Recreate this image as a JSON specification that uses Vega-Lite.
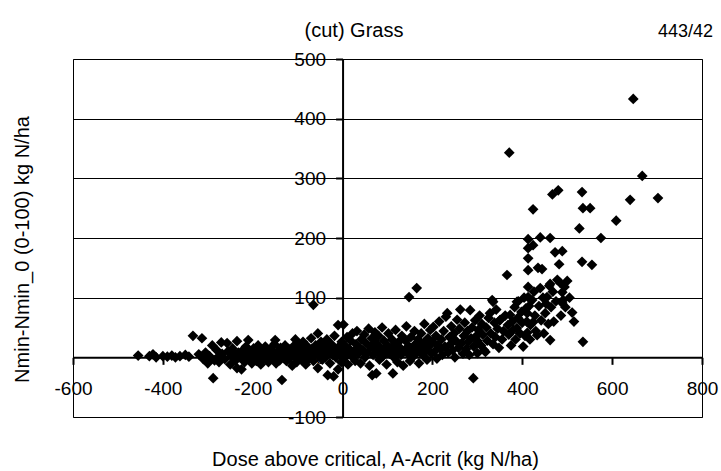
{
  "$schema": "https://vega.github.io/schema/vega-lite/v6.json",
  "width": 629,
  "height": 358,
  "autosize": {"type": "none"},
  "padding": {"left": 73, "top": 59, "right": 19, "bottom": 54},
  "background": "white",
  "config": {
    "view": {"stroke": "#000", "strokeWidth": 1},
    "font": "Liberation Sans",
    "axis": {"labelFont": "Liberation Sans", "titleFont": "Liberation Sans", "labelColor": "#000", "titleColor": "#000", "titleFontWeight": "normal"}
  },
  "data": {"values": [
    {"dose":-455,"nmin":3},{"dose":-430,"nmin":2},{"dose":-422,"nmin":5},{"dose":-415,"nmin":0},{"dose":-400,"nmin":2},{"dose":-390,"nmin":1},{"dose":-380,"nmin":3},{"dose":-372,"nmin":0},{"dose":-362,"nmin":2},{"dose":-350,"nmin":4},{"dose":-342,"nmin":1},{"dose":-333,"nmin":36},{"dose":-313,"nmin":32},{"dose":-320,"nmin":5},{"dose":-310,"nmin":-3},{"dose":-300,"nmin":-10},{"dose":-305,"nmin":8},{"dose":-296,"nmin":2},{"dose":-290,"nmin":20},{"dose":-288,"nmin":-35},{"dose":-285,"nmin":-5},{"dose":-280,"nmin":12},{"dose":-278,"nmin":0},
    {"dose":-275,"nmin":-8},{"dose":-270,"nmin":25},{"dose":-268,"nmin":6},{"dose":-262,"nmin":-3},{"dose":-257,"nmin":24},{"dose":-255,"nmin":10},{"dose":-250,"nmin":-12},{"dose":-248,"nmin":2},{"dose":-245,"nmin":15},{"dose":-240,"nmin":5},{"dose":-238,"nmin":-5},{"dose":-235,"nmin":27},{"dose":-235,"nmin":-18},{"dose":-232,"nmin":8},{"dose":-228,"nmin":0},{"dose":-225,"nmin":-20},{"dose":-222,"nmin":12},{"dose":-220,"nmin":3},{"dose":-218,"nmin":-8},{"dose":-215,"nmin":18},{"dose":-212,"nmin":5},{"dose":-210,"nmin":29},{"dose":-208,"nmin":-2},{"dose":-205,"nmin":10},{"dose":-202,"nmin":-10},{"dose":-200,"nmin":6},
    {"dose":-198,"nmin":15},{"dose":-195,"nmin":0},{"dose":-192,"nmin":-6},{"dose":-190,"nmin":8},{"dose":-188,"nmin":20},{"dose":-185,"nmin":3},{"dose":-182,"nmin":-12},{"dose":-180,"nmin":12},{"dose":-178,"nmin":-3},{"dose":-175,"nmin":6},{"dose":-172,"nmin":18},{"dose":-170,"nmin":0},{"dose":-168,"nmin":10},{"dose":-165,"nmin":-8},{"dose":-162,"nmin":4},{"dose":-160,"nmin":14},{"dose":-158,"nmin":-2},{"dose":-155,"nmin":7},{"dose":-152,"nmin":22},{"dose":-150,"nmin":29},{"dose":-148,"nmin":-10},{"dose":-145,"nmin":2},{"dose":-142,"nmin":12},{"dose":-140,"nmin":-5},{"dose":-138,"nmin":16},{"dose":-135,"nmin":-38},{"dose":-135,"nmin":6},{"dose":-132,"nmin":0},{"dose":-130,"nmin":10},{"dose":-128,"nmin":20},{"dose":-125,"nmin":-6},{"dose":-122,"nmin":4},{"dose":-120,"nmin":14},{"dose":-118,"nmin":-2},{"dose":-115,"nmin":8},{"dose":-112,"nmin":-14},{"dose":-110,"nmin":18},{"dose":-108,"nmin":2},{"dose":-105,"nmin":30},{"dose":-102,"nmin":-8},{"dose":-100,"nmin":10},
    {"dose":-98,"nmin":22},{"dose":-95,"nmin":4},{"dose":-92,"nmin":-4},{"dose":-90,"nmin":12},{"dose":-88,"nmin":26},{"dose":-85,"nmin":0},{"dose":-82,"nmin":-12},{"dose":-80,"nmin":8},{"dose":-78,"nmin":18},{"dose":-75,"nmin":-2},{"dose":-72,"nmin":6},{"dose":-70,"nmin":32},{"dose":-68,"nmin":14},{"dose":-65,"nmin":88},{"dose":-65,"nmin":-6},{"dose":-62,"nmin":4},{"dose":-60,"nmin":20},{"dose":-58,"nmin":10},{"dose":-55,"nmin":40},{"dose":-55,"nmin":-18},{"dose":-52,"nmin":2},{"dose":-50,"nmin":14},{"dose":-48,"nmin":26},{"dose":-45,"nmin":-4},{"dose":-42,"nmin":8},{"dose":-40,"nmin":18},{"dose":-38,"nmin":0},{"dose":-35,"nmin":30},{"dose":-33,"nmin":-30},{"dose":-30,"nmin":10},{"dose":-28,"nmin":-10},{"dose":-25,"nmin":22},{"dose":-22,"nmin":4},{"dose":-20,"nmin":-32},{"dose":-20,"nmin":14},{"dose":-18,"nmin":36},{"dose":-15,"nmin":0},{"dose":-12,"nmin":8},{"dose":-10,"nmin":54},{"dose":-10,"nmin":-20},{"dose":-8,"nmin":18},{"dose":-5,"nmin":4},{"dose":-3,"nmin":-8},{"dose":-2,"nmin":26},{"dose":0,"nmin":12},
    {"dose":2,"nmin":55},{"dose":3,"nmin":-2},{"dose":5,"nmin":20},{"dose":8,"nmin":6},{"dose":10,"nmin":34},{"dose":12,"nmin":-12},{"dose":15,"nmin":14},{"dose":18,"nmin":28},{"dose":20,"nmin":2},{"dose":22,"nmin":40},{"dose":25,"nmin":10},{"dose":28,"nmin":-6},{"dose":30,"nmin":22},{"dose":32,"nmin":44},{"dose":35,"nmin":6},{"dose":38,"nmin":16},{"dose":40,"nmin":-10},{"dose":42,"nmin":30},{"dose":45,"nmin":12},{"dose":48,"nmin":38},{"dose":50,"nmin":0},{"dose":52,"nmin":24},{"dose":55,"nmin":8},{"dose":58,"nmin":48},{"dose":60,"nmin":-14},{"dose":62,"nmin":18},{"dose":65,"nmin":32},{"dose":66,"nmin":-30},{"dose":68,"nmin":4},{"dose":70,"nmin":14},{"dose":72,"nmin":42},{"dose":75,"nmin":-27},{"dose":75,"nmin":24},{"dose":78,"nmin":8},{"dose":80,"nmin":36},{"dose":82,"nmin":-4},{"dose":85,"nmin":16},{"dose":88,"nmin":50},{"dose":90,"nmin":2},{"dose":92,"nmin":28},{"dose":95,"nmin":10},{"dose":98,"nmin":-12},{"dose":100,"nmin":20},
    {"dose":102,"nmin":40},{"dose":105,"nmin":6},{"dose":108,"nmin":14},{"dose":110,"nmin":30},{"dose":112,"nmin":-27},{"dose":114,"nmin":0},{"dose":116,"nmin":22},{"dose":118,"nmin":46},{"dose":120,"nmin":10},{"dose":122,"nmin":-8},{"dose":125,"nmin":26},{"dose":128,"nmin":16},{"dose":130,"nmin":4},{"dose":132,"nmin":36},{"dose":135,"nmin":-14},{"dose":138,"nmin":12},{"dose":140,"nmin":28},{"dose":142,"nmin":52},{"dose":145,"nmin":6},{"dose":148,"nmin":101},{"dose":148,"nmin":18},{"dose":150,"nmin":-6},{"dose":152,"nmin":34},{"dose":155,"nmin":14},{"dose":158,"nmin":2},{"dose":160,"nmin":44},{"dose":162,"nmin":22},{"dose":165,"nmin":116},{"dose":165,"nmin":8},{"dose":168,"nmin":30},{"dose":170,"nmin":-10},{"dose":172,"nmin":16},{"dose":175,"nmin":40},{"dose":178,"nmin":4},{"dose":180,"nmin":24},{"dose":182,"nmin":56},{"dose":185,"nmin":12},{"dose":188,"nmin":-4},{"dose":190,"nmin":32},{"dose":192,"nmin":18},{"dose":195,"nmin":46},{"dose":198,"nmin":6},{"dose":200,"nmin":26},
    {"dose":202,"nmin":51},{"dose":205,"nmin":10},{"dose":208,"nmin":36},{"dose":210,"nmin":-2},{"dose":212,"nmin":20},{"dose":215,"nmin":60},{"dose":218,"nmin":14},{"dose":220,"nmin":30},{"dose":222,"nmin":4},{"dose":225,"nmin":44},{"dose":228,"nmin":18},{"dose":230,"nmin":68},{"dose":233,"nmin":74},{"dose":235,"nmin":8},{"dose":238,"nmin":34},{"dose":240,"nmin":22},{"dose":242,"nmin":52},{"dose":245,"nmin":12},{"dose":248,"nmin":40},{"dose":250,"nmin":0},{"dose":252,"nmin":28},{"dose":255,"nmin":63},{"dose":258,"nmin":16},{"dose":260,"nmin":48},{"dose":262,"nmin":80},{"dose":265,"nmin":24},{"dose":268,"nmin":6},{"dose":270,"nmin":36},{"dose":272,"nmin":58},{"dose":275,"nmin":14},{"dose":278,"nmin":44},{"dose":280,"nmin":26},{"dose":282,"nmin":4},{"dose":284,"nmin":79},{"dose":286,"nmin":32},{"dose":288,"nmin":50},{"dose":291,"nmin":-35},{"dose":292,"nmin":18},{"dose":295,"nmin":62},{"dose":298,"nmin":36},{"dose":300,"nmin":7},{"dose":300,"nmin":28},
    {"dose":302,"nmin":46},{"dose":305,"nmin":70},{"dose":308,"nmin":20},{"dose":310,"nmin":56},{"dose":312,"nmin":38},{"dose":315,"nmin":12},{"dose":318,"nmin":9},{"dose":320,"nmin":50},{"dose":322,"nmin":28},{"dose":325,"nmin":66},{"dose":328,"nmin":74},{"dose":330,"nmin":40},{"dose":333,"nmin":96},{"dose":335,"nmin":93},{"dose":335,"nmin":22},{"dose":338,"nmin":58},{"dose":340,"nmin":34},{"dose":342,"nmin":80},{"dose":345,"nmin":48},{"dose":348,"nmin":16},{"dose":350,"nmin":62},{"dose":351,"nmin":63},{"dose":355,"nmin":30},{"dose":358,"nmin":44},
    {"dose":362,"nmin":70},{"dose":366,"nmin":138},{"dose":368,"nmin":54},{"dose":370,"nmin":38},{"dose":371,"nmin":343},{"dose":373,"nmin":71},{"dose":375,"nmin":20},{"dose":378,"nmin":60},{"dose":380,"nmin":46},{"dose":383,"nmin":84},{"dose":385,"nmin":30},{"dose":388,"nmin":49},{"dose":388,"nmin":93},{"dose":390,"nmin":66},{"dose":391,"nmin":94},{"dose":395,"nmin":40},{"dose":398,"nmin":76},{"dose":400,"nmin":58},{"dose":402,"nmin":18},{"dose":404,"nmin":100},{"dose":406,"nmin":36},{"dose":408,"nmin":82},{"dose":410,"nmin":60},{"dose":411,"nmin":41},{"dose":411,"nmin":74},{"dose":413,"nmin":118},{"dose":413,"nmin":146},{"dose":413,"nmin":166},{"dose":413,"nmin":183},{"dose":413,"nmin":198},{"dose":413,"nmin":101},{"dose":415,"nmin":86},{"dose":417,"nmin":30},{"dose":418,"nmin":54},
    {"dose":422,"nmin":96},{"dose":424,"nmin":188},{"dose":424,"nmin":248},{"dose":424,"nmin":59},{"dose":426,"nmin":110},{"dose":428,"nmin":70},{"dose":430,"nmin":44},{"dose":433,"nmin":37},{"dose":435,"nmin":150},{"dose":437,"nmin":86},{"dose":440,"nmin":201},{"dose":440,"nmin":116},{"dose":442,"nmin":62},{"dose":444,"nmin":148},{"dose":446,"nmin":100},{"dose":448,"nmin":40},{"dose":451,"nmin":74},{"dose":453,"nmin":90},{"dose":455,"nmin":101},{"dose":458,"nmin":56},{"dose":460,"nmin":120},{"dose":462,"nmin":200},{"dose":462,"nmin":123},{"dose":462,"nmin":29},{"dose":464,"nmin":84},{"dose":467,"nmin":273},{"dose":468,"nmin":110},{"dose":470,"nmin":60},{"dose":473,"nmin":176},{"dose":475,"nmin":94},{"dose":478,"nmin":130},{"dose":480,"nmin":280},{"dose":482,"nmin":156},{"dose":484,"nmin":125},{"dose":486,"nmin":70},{"dose":489,"nmin":178},{"dose":489,"nmin":109},{"dose":489,"nmin":91},{"dose":491,"nmin":96},{"dose":494,"nmin":118},{"dose":496,"nmin":84},{"dose":500,"nmin":128},
    {"dose":505,"nmin":100},{"dose":511,"nmin":75},{"dose":515,"nmin":60},{"dose":527,"nmin":216},{"dose":533,"nmin":277},{"dose":533,"nmin":160},{"dose":535,"nmin":250},{"dose":535,"nmin":26},{"dose":551,"nmin":250},{"dose":555,"nmin":155},{"dose":575,"nmin":200},{"dose":609,"nmin":229},{"dose":640,"nmin":264},{"dose":647,"nmin":433},{"dose":667,"nmin":304},{"dose":702,"nmin":267}
  ]},
  "layer": [
    {
      "mark": {"type": "point", "shape": "diamond", "filled": true, "color": "#000", "opacity": 1, "size": 115},
      "encoding": {
        "x": {
          "field": "dose", "type": "quantitative",
          "scale": {"domain": [-600, 800], "nice": false, "zero": false},
          "axis": {
            "orient": "bottom", "offset": -59.67, "values": [-600, -400, -200, 0, 200, 400, 600, 800],
            "labelExpr": "'' + datum.value",
            "grid": false, "domain": true, "domainColor": "#000", "domainWidth": 2,
            "ticks": true, "tickColor": "#000", "tickWidth": 2, "tickSize": 7,
            "labelFontSize": 19, "labelPadding": 15, "labelFlush": false, "labelOverlap": false, "labelBound": false,
            "title": "Dose above critical, A-Acrit (kg N/ha)", "titleFontSize": 20,
            "titleX": 302, "titleY": 108, "titleAlign": "center", "titleBaseline": "alphabetic"
          }
        },
        "y": {
          "field": "nmin", "type": "quantitative",
          "scale": {"domain": [-100, 500], "nice": false, "zero": false},
          "axis": {
            "orient": "left", "offset": -269.57, "values": [-100, 0, 100, 200, 300, 400, 500],
            "labelExpr": "'' + datum.value",
            "grid": true, "gridColor": "#000", "gridWidth": 1, "gridOpacity": 1,
            "domain": true, "domainColor": "#000", "domainWidth": 2,
            "ticks": true, "tickColor": "#000", "tickWidth": 2, "tickSize": 7,
            "labelFontSize": 19, "labelPadding": 10, "labelFlush": false, "labelOverlap": false, "labelBound": false,
            "title": "Nmin-Nmin_0 (0-100) kg N/ha", "titleFontSize": 20,
            "titleX": -319.6, "titleY": 190, "titleAngle": -90, "titleAlign": "center", "titleBaseline": "middle"
          }
        }
      }
    },
    {
      "mark": {"type": "point", "opacity": 0},
      "encoding": {
        "x": {
          "field": "dose", "type": "quantitative",
          "axis": {
            "orient": "top", "grid": false, "domain": false, "ticks": false, "labels": false,
            "title": "(cut) Grass", "titleFontSize": 20, "titleX": 280.5, "titleY": -23,
            "titleAlign": "center", "titleBaseline": "alphabetic"
          }
        },
        "y": {
          "field": "nmin", "type": "quantitative",
          "axis": {
            "orient": "right", "grid": false, "domain": false, "ticks": false, "labels": false,
            "title": "443/42", "titleFontSize": 18, "titleX": -17, "titleY": -23, "titleAngle": 0,
            "titleAlign": "center", "titleBaseline": "alphabetic"
          }
        }
      }
    }
  ],
  "resolve": {"axis": {"x": "independent", "y": "independent"}}
}
